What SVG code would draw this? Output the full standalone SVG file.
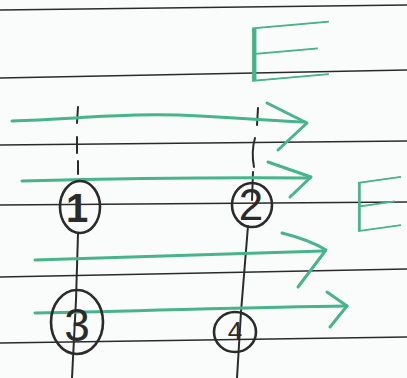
<svg xmlns="http://www.w3.org/2000/svg" width="407" height="378" viewBox="0 0 407 378">
  <style>
    .rule { stroke: #2a2a2a; stroke-width: 1.4; fill: none; }
    .green { stroke: #47b48c; stroke-width: 3; fill: none; stroke-linecap: round; stroke-linejoin: round; }
    .pen { stroke: #2b2b2b; stroke-width: 2; fill: none; stroke-linecap: round; }
    .node { stroke: #2b2b2b; stroke-width: 2.6; fill: none; }
    .num { font-family: "Liberation Sans", Arial, sans-serif; fill: #2b2b2b; text-anchor: middle; }
    .letter { font-family: Lato, "Liberation Sans", sans-serif; font-weight: 100; fill: #47b48c; stroke: #47b48c; }
  </style>
  <rect width="407" height="378" fill="#fafcfb"/>
  <g id="ruled-lines">
    <path class="rule" d="M0,10 L407,5"/>
    <path class="rule" d="M0,78 L407,70"/>
    <path class="rule" d="M0,145 L407,141"/>
    <path class="rule" d="M0,205 L407,202"/>
    <path class="rule" d="M0,277 L407,269"/>
    <path class="rule" d="M0,343 L407,337"/>
  </g>
  <g id="connectors">
    <path class="pen" d="M78,107 L77,123 M77,137 L77,153 M78,161 L78,174"/>
    <path class="pen" d="M258,108 L257,125 M255,138 Q251,152 254,167 M253,172 L252,200"/>
    <path class="pen" d="M78,234 L76,300 L72,378"/>
    <path class="pen" d="M248,226 L241,312 L237,378"/>
    <path class="green" d="M12,121 C80,119 130,112 200,116 S280,121 305,122"/>
    <path class="green" d="M267,103 L307,123 L278,150"/>
    <path class="green" d="M22,181 C100,179 200,177 310,178"/>
    <path class="green" d="M268,162 L311,177 L290,197"/>
    <path class="green" d="M35,260 C120,258 220,254 323,251"/>
    <path class="green" d="M282,233 Q310,240 326,250 L298,287"/>
    <path class="green" d="M35,313 C150,311 250,307 347,306"/>
    <path class="green" d="M327,292 L347,306 L330,327"/>
  </g>
  <g id="n1">
    <ellipse class="node" cx="80" cy="207" rx="20" ry="26"/>
    <text class="num" x="77" y="222" font-size="40" font-weight="bold">1</text>
  </g>
  <g id="n2">
    <ellipse class="node" cx="252" cy="205" rx="20" ry="22"/>
    <text class="num" x="251" y="220" font-size="44">2</text>
  </g>
  <g id="n3">
    <ellipse class="node" cx="77" cy="322" rx="26" ry="32"/>
    <text class="num" x="77" y="341" font-size="46">3</text>
  </g>
  <g id="n4">
    <ellipse class="node" cx="235" cy="332" rx="21" ry="20"/>
    <text class="num" x="235" y="340" font-size="26">4</text>
  </g>
  <g id="E1" transform="translate(232,83) skewY(-5) scale(2.4,1)">
    <text class="letter" x="0" y="0" font-size="76" stroke-width="0.9">E</text>
  </g>
  <g id="E2" transform="translate(347,233) skewY(-8) scale(1.45,1)">
    <text class="letter" x="0" y="0" font-size="70" stroke-width="1">E</text>
  </g>
</svg>
